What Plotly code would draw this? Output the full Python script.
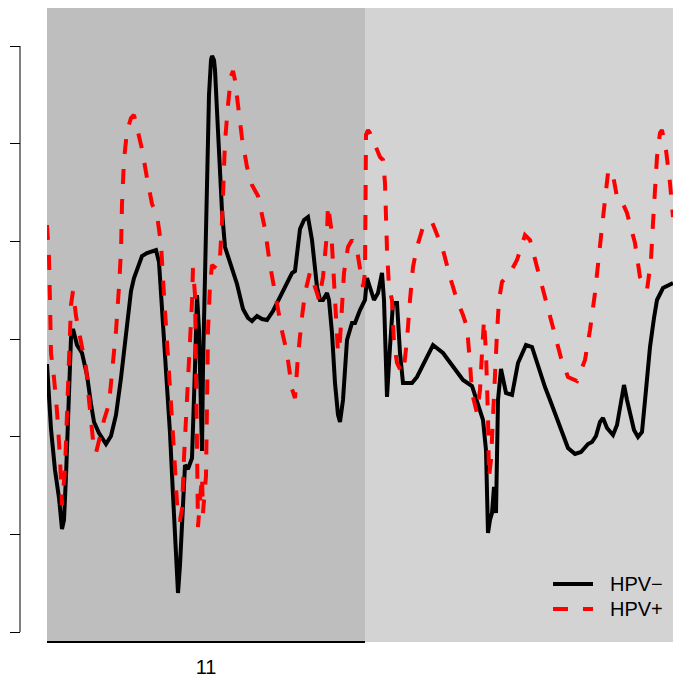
import plotly.graph_objects as go

# genomic position (arbitrary units along the genome axis)
pos_neg = [0, 4, 8, 12, 15, 17, 19, 22, 24, 26, 30, 35, 40, 44, 47, 52, 59, 64, 69, 74, 79, 84, 87, 95, 100, 105, 109, 112, 115, 120, 123, 126, 129, 131, 133, 135, 138, 141, 145, 148, 150, 152, 153, 155, 156, 158, 160, 162, 164, 165, 167, 168, 171, 175, 178, 183, 190, 196, 201, 205, 210, 215, 220, 226, 236, 241, 245, 248, 253, 257, 261, 265, 270, 273, 276, 280, 282, 285, 288, 291, 293, 296, 300, 305, 308, 313, 318, 320, 323, 327, 331, 335, 337, 340, 343, 346, 350, 353, 356, 365, 370, 378, 386, 396, 406, 416, 425, 431, 436, 439, 441, 443, 445, 447, 449, 451, 454, 459, 465, 471, 479, 485, 491, 498, 503, 509, 515, 521, 528, 534, 541, 545, 549, 553, 556, 560, 566, 570, 574, 577, 580, 584, 587, 591, 595, 599, 603, 607, 610, 616, 621, 626]
hpv_neg = [268, 203, 162, 134, 103, 112, 156, 247, 294, 303, 287, 279, 257, 228, 210, 199, 188, 196, 217, 254, 301, 341, 354, 376, 379, 381, 382, 370, 323, 247, 199, 137, 72, 39, 67, 101, 167, 163, 174, 265, 337, 302, 265, 181, 265, 356, 447, 537, 572, 576, 572, 562, 501, 421, 385, 370, 348, 323, 314, 311, 316, 313, 312, 321, 341, 352, 359, 361, 403, 412, 415, 392, 345, 332, 332, 339, 332, 299, 249, 217, 210, 232, 292, 309, 309, 322, 332, 354, 345, 332, 339, 359, 332, 235, 285, 329, 329, 279, 249, 249, 255, 272, 287, 279, 265, 252, 246, 229, 212, 182, 99, 112, 119, 145, 119, 232, 263, 239, 237, 269, 287, 285, 265, 245, 232, 217, 200, 184, 178, 180, 188, 190, 196, 210, 214, 204, 197, 207, 232, 247, 232, 214, 202, 195, 200, 242, 285, 314, 332, 344, 347, 349]

pos_pos = [0, 2, 3, 4, 7, 10, 13, 15, 18, 20, 22, 24, 26, 29, 34, 39, 42, 46, 49, 52, 57, 62, 65, 69, 72, 74, 75, 77, 80, 84, 87, 90, 95, 100, 105, 110, 114, 117, 120, 124, 127, 129, 131, 133, 135, 137, 140, 142, 145, 146, 148, 149, 150, 151, 153, 155, 156, 158, 159, 160, 161, 163, 165, 170, 173, 175, 176, 178, 181, 184, 186, 188, 191, 195, 200, 205, 211, 218, 223, 228, 235, 240, 245, 248, 251, 255, 258, 263, 266, 270, 272, 276, 280, 281, 284, 286, 288, 290, 291, 293, 295, 297, 301, 305, 310, 313, 316, 318, 319, 319, 321, 323, 326, 330, 333, 336, 338, 340, 342, 345, 347, 350, 355, 357, 360, 363, 366, 370, 376, 380, 385, 391, 396, 403, 410, 416, 420, 423, 425, 430, 433, 435, 436, 437, 439, 440, 441, 442, 444, 446, 448, 450, 452, 455, 463, 470, 478, 483, 490, 498, 506, 514, 521, 530, 538, 543, 548, 551, 555, 558, 561, 565, 570, 573, 580, 588, 593, 600, 604, 606, 608, 610, 613, 615, 619, 623, 626]
hpv_pos = [407, 374, 330, 279, 254, 221, 174, 127, 163, 228, 294, 327, 341, 316, 290, 265, 232, 192, 179, 192, 212, 228, 257, 301, 345, 381, 428, 472, 501, 514, 517, 505, 483, 454, 428, 417, 388, 337, 283, 228, 181, 137, 112, 112, 123, 174, 228, 276, 330, 364, 337, 265, 174, 105, 132, 156, 119, 142, 156, 228, 301, 347, 367, 363, 374, 410, 447, 490, 527, 556, 561, 552, 527, 494, 465, 447, 436, 403, 367, 337, 301, 279, 243, 234, 276, 315, 339, 360, 352, 339, 332, 355, 399, 427, 405, 372, 345, 299, 279, 292, 332, 359, 385, 392, 382, 365, 345, 359, 432, 497, 502, 499, 492, 482, 475, 472, 449, 382, 345, 332, 289, 269, 259, 265, 292, 332, 365, 385, 405, 410, 410, 395, 382, 355, 332, 317, 305, 269, 239, 219, 242, 279, 302, 312, 279, 249, 215, 155, 172, 215, 262, 299, 332, 350, 359, 372, 397, 392, 365, 335, 302, 274, 255, 251, 272, 302, 339, 372, 405, 432, 459, 462, 435, 435, 419, 389, 355, 342, 372, 409, 445, 475, 499, 502, 482, 449, 415]

# chromosome blocks
chrom_names = ["11", "12"]
chrom_start = [0, 318]
chrom_end = [318, 700]
chrom_fill = ["#BEBEBE", "#D3D3D3"]

y_ticks = [0, 97.7, 195.3, 293, 390.7, 488.3, 586]
X_RANGE = [0, 626]
Y_RANGE = [-10, 624]

series_names = ["HPV\u2212", "HPV+"]
series_colors = ["black", "#FF0000"]
series_dash = ["solid", "15px,15px"]

fig = go.Figure()
fig.add_trace(go.Scatter(x=pos_neg, y=hpv_neg, mode="lines", name=series_names[0],
                         line=dict(color=series_colors[0], width=4, dash=series_dash[0])))
fig.add_trace(go.Scatter(x=pos_pos, y=hpv_pos, mode="lines", name=series_names[1],
                         line=dict(color=series_colors[1], width=4, dash=series_dash[1])))

W, H = 673, 677
ML, MR, MT, MB = 20, 0, 8, 35
pw = W - ML - MR
ph = H - MT - MB

shapes = []
for s, e, c in zip(chrom_start, chrom_end, chrom_fill):
    shapes.append(dict(type="rect", xref="x", yref="paper", x0=s, x1=e, y0=0, y1=1,
                       fillcolor=c, line=dict(width=0), layer="below"))
# bottom axis segment for the labelled chromosome
shapes.append(dict(type="line", xref="x", yref="paper", x0=chrom_start[0], x1=chrom_end[0],
                   y0=0, y1=0, line=dict(color="black", width=2)))
# left axis line
shapes.append(dict(type="line", xref="paper", yref="y", x0=0, x1=0,
                   y0=y_ticks[0], y1=y_ticks[-1], line=dict(color="black", width=1)))

# legend (bottom-right, drawn in paper coordinates)
annotations = []
leg_x0, leg_x1, leg_tx = (553 - ML) / pw, (593 - ML) / pw, (608 - ML) / pw
for i, (nm, col, dsh) in enumerate(zip(series_names, series_colors, series_dash)):
    yy = (H - MB - (584 + 25 * i)) / ph
    shapes.append(dict(type="line", xref="paper", yref="paper", x0=leg_x0, x1=leg_x1,
                       y0=yy, y1=yy, line=dict(color=col, width=4, dash=dsh)))
    annotations.append(dict(xref="paper", yref="paper", x=leg_tx, y=yy, text=nm,
                            showarrow=False, xanchor="left", yanchor="middle",
                            font=dict(size=20, color="black")))

fig.update_layout(
    width=W, height=H,
    margin=dict(l=ML, r=MR, t=MT, b=MB, autoexpand=False),
    paper_bgcolor="white", plot_bgcolor="white",
    shapes=shapes, annotations=annotations,
    font=dict(family="Liberation Sans, Arial, sans-serif", size=18, color="black"),
    xaxis=dict(domain=[27 / pw, 1], range=X_RANGE, showgrid=False, zeroline=False,
               showline=False, tickvals=[(chrom_start[0] + chrom_end[0]) / 2],
               ticktext=[chrom_names[0]], ticks="outside", ticklen=7,
               tickcolor="rgba(0,0,0,0)", tickfont=dict(size=20), automargin=False),
    yaxis=dict(anchor="free", position=0, range=Y_RANGE, showgrid=False, zeroline=False,
               showline=False, tickvals=y_ticks, ticks="outside", ticklen=10,
               tickwidth=1, tickcolor="black", showticklabels=False, automargin=False),
    showlegend=False,
)
fig.write_html(
    "out.html",
    config={"displayModeBar": False},
    post_script="document.body.style.margin='0';document.body.style.overflow='hidden';",
)
